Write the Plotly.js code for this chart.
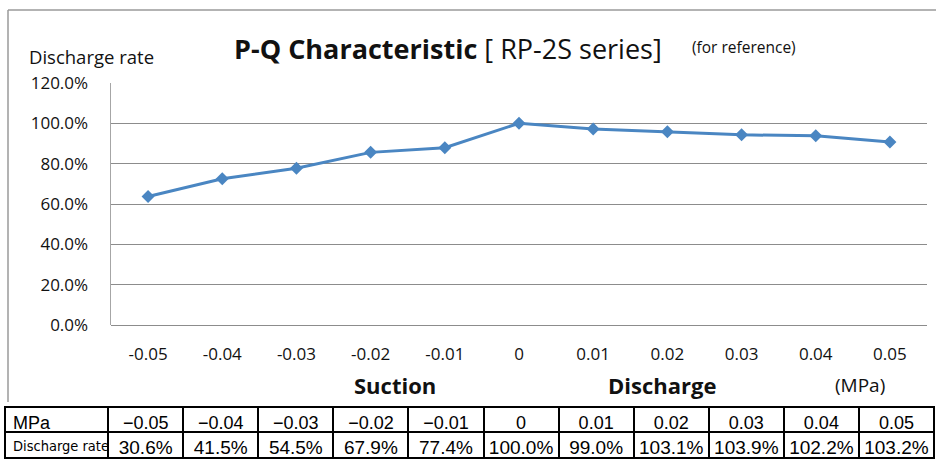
<!DOCTYPE html>
<html>
<head>
<meta charset="utf-8">
<script src="https://cdn.plot.ly/plotly-3.0.1.min.js"></script>
<style>html,body{margin:0;padding:0;background:#fff;}#chart{width:936px;height:465px;}</style>
</head>
<body>
<div id="chart"></div>
<script>
// Chart data
const categories = ['-0.05','-0.04','-0.03','-0.02','-0.01','0','0.01','0.02','0.03','0.04','0.05'];
const lineValues = [0.637, 0.725, 0.777, 0.856, 0.879, 1.000, 0.972, 0.958, 0.943, 0.938, 0.907];
const yTicks = [0, 0.2, 0.4, 0.6, 0.8, 1.0, 1.2];
const tableHeaderLabel = 'MPa';
const tableMPa = ['\u22120.05','\u22120.04','\u22120.03','\u22120.02','\u22120.01','0','0.01','0.02','0.03','0.04','0.05'];
const tableRowLabel = 'Discharge\u00a0rate';
const tableRates = ['30.6%','41.5%','54.5%','67.9%','77.4%','100.0%','99.0%','103.1%','103.9%','102.2%','103.2%'];

const W = 936, H = 465;
const px = x => x / W;
const py = y => 1 - y / H;

const lineTrace = {
  type: 'scatter', mode: 'lines+markers',
  x: categories, y: lineValues,
  line: {color: '#4a86c2', width: 3},
  marker: {symbol: 'diamond', size: 10, color: '#4a86c2'},
  hoverinfo: 'skip', showlegend: false
};

const headerVals = [[tableHeaderLabel]].concat(tableMPa.map(v => [v]));
const cellVals = [[tableRowLabel]].concat(tableRates.map(v => [v]));
const nCols = headerVals.length;
const tableTrace = {
  type: 'table',
  domain: {x: [px(5), px(934)], y: [py(460), py(407)]},
  columnwidth: [103].concat(Array(nCols - 1).fill(75)),
  header: {
    values: headerVals,
    align: ['left'].concat(Array(nCols - 1).fill('center')),
    height: 25,
    fill: {color: 'white'},
    line: {color: '#000', width: 2},
    font: {family: 'Liberation Sans, Arial, sans-serif', size: 18, color: '#000'}
  },
  cells: {
    values: cellVals,
    align: ['left'].concat(Array(nCols - 1).fill('center')),
    height: 26,
    fill: {color: 'white'},
    line: {color: '#000', width: 2},
    font: {
      family: ['DejaVu Sans Condensed, Roboto, sans-serif'].concat(Array(nCols - 1).fill('Liberation Sans, Arial, sans-serif')),
      size: [14.5].concat(Array(nCols - 1).fill(19)), color: '#000'
    }
  }
};

const labelFont = 'Open Sans, Noto Sans, sans-serif';
const layout = {
  width: W, height: H, autosize: false,
  margin: {l: 0, r: 0, t: 0, b: 0},
  paper_bgcolor: '#fff', plot_bgcolor: '#fff',
  showlegend: false,
  xaxis: {
    type: 'category', domain: [px(111), px(927)], range: [-0.5, 10.5],
    showgrid: false, showline: false, zeroline: false, ticks: '',
    ticklabelstandoff: 17,
    tickfont: {family: labelFont, size: 17, color: '#111'},
    fixedrange: true
  },
  yaxis: {
    domain: [py(325), py(83)], range: [0, 1.2],
    tickvals: yTicks, tickformat: '.1%',
    showgrid: true, gridcolor: '#8c8c8c', gridwidth: 1,
    zeroline: true, zerolinecolor: '#8c8c8c', zerolinewidth: 1,
    showline: true, linecolor: '#a6a6a6', linewidth: 1.5,
    ticks: '', ticklabelstandoff: 18,
    tickfont: {family: labelFont, size: 17, color: '#111'},
    fixedrange: true
  },
  shapes: [
    {type: 'line', xref: 'paper', yref: 'paper', x0: px(8), x1: px(936), y0: py(10), y1: py(10), line: {color: '#9a9a9a', width: 1.5}},
    {type: 'line', xref: 'paper', yref: 'paper', x0: px(8), x1: px(8), y0: py(10), y1: py(402), line: {color: '#9a9a9a', width: 1.5}}
  ],
  annotations: [
    {xref: 'paper', yref: 'paper', x: px(27), y: py(56), xanchor: 'left', yanchor: 'middle', showarrow: false,
     text: 'Discharge rate', font: {family: labelFont, size: 18.5, color: '#111'}},
    {xref: 'paper', yref: 'paper', x: px(232), y: py(48), xanchor: 'left', yanchor: 'middle', showarrow: false,
     text: '<b>P-Q Characteristic</b> [ RP-2S series]', font: {family: labelFont, size: 27, color: '#111'}},
    {xref: 'paper', yref: 'paper', x: px(690), y: py(47), xanchor: 'left', yanchor: 'middle', showarrow: false,
     text: '(for reference)', font: {family: labelFont, size: 15.5, color: '#111'}},
    {xref: 'paper', yref: 'paper', x: px(395), y: py(385), xanchor: 'center', yanchor: 'middle', showarrow: false,
     text: '<b>Suction</b>', font: {family: labelFont, size: 22, color: '#111'}},
    {xref: 'paper', yref: 'paper', x: px(662), y: py(385), xanchor: 'center', yanchor: 'middle', showarrow: false,
     text: '<b>Discharge</b>', font: {family: labelFont, size: 22, color: '#111'}},
    {xref: 'paper', yref: 'paper', x: px(860), y: py(385), xanchor: 'center', yanchor: 'middle', showarrow: false,
     text: '(MPa)', font: {family: labelFont, size: 19, color: '#111'}}
  ]
};

Plotly.newPlot('chart', [lineTrace, tableTrace], layout, {staticPlot: true, displayModeBar: false});
</script>
</body>
</html>
